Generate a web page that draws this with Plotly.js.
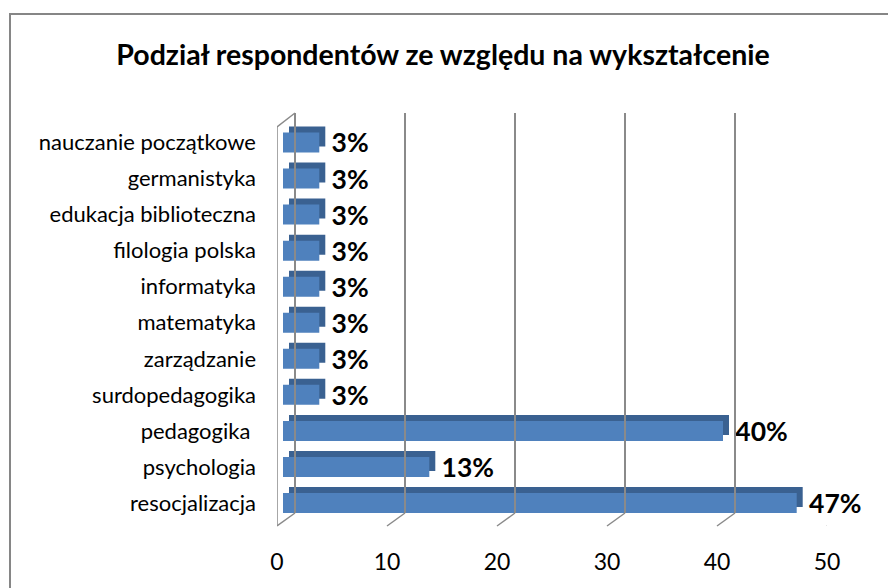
<!DOCTYPE html>
<html>
<head>
<meta charset="utf-8">
<script src="https://cdn.plot.ly/plotly-3.0.1.min.js"></script>
<style>
  html, body { margin: 0; padding: 0; background: white; }
  #chart { width: 888px; height: 588px; }
</style>
</head>
<body>
<div id="chart"></div>
<script>
// categories from bottom to top, as plotly draws them
let categories = ['resocjalizacja', 'psychologia', 'pedagogika ', 'surdopedagogika', 'zarządzanie',
  'matematyka', 'informatyka', 'filologia polska', 'edukacja biblioteczna', 'germanistyka',
  'nauczanie początkowe']
let values = [46.7, 13.3, 40, 3.3, 3.3, 3.3, 3.3, 3.3, 3.3, 3.3, 3.3]
let labels = ['47%', '13%', '40%', '3%', '3%', '3%', '3%', '3%', '3%', '3%', '3%']
let xTicks = [0, 10, 20, 30, 40, 50]

// fake 3d: depth of the bar boxes (value units / category units)
let depthX = 6 / 11
let depthY = 6 / 36.05
let barW = 20 / 36.05

let front = '#4f81bd'
let side = '#3a6191'
let gridColor = '#8a8a8a'
let font = 'Lato, "Open Sans", sans-serif'

let sideData = {
  type: 'bar', orientation: 'h',
  y: categories, x: values,
  base: values.map(() => depthX),
  width: barW, offset: -barW / 2 + depthY,
  marker: { color: side },
  xaxis: 'x', yaxis: 'y',
  hoverinfo: 'skip'
}
let frontData = {
  type: 'bar', orientation: 'h',
  y: categories, x: values,
  width: barW, offset: -barW / 2,
  marker: { color: front, line: { width: 0 } },
  xaxis: 'x', yaxis: 'y'
}
let textData = {
  type: 'bar', orientation: 'h',
  y: categories, x: values,
  base: values.map(() => depthX),
  width: barW, offset: -barW / 2,
  marker: { color: 'rgba(0,0,0,0)' },
  text: labels.map(t => '\u2009' + t),
  textposition: 'outside',
  constraintext: 'none',
  cliponaxis: false,
  textfont: { family: font, size: 26.5, color: '#000', weight: 'bold' },
  xaxis: 'x', yaxis: 'y',
  hoverinfo: 'skip'
}
// invisible traces so the back wall and the front floor axes get drawn
let backData = {
  type: 'scatter', mode: 'markers', x: [0], y: [0],
  marker: { opacity: 0 }, xaxis: 'x2', yaxis: 'y2', hoverinfo: 'skip'
}
let tickData = {
  type: 'scatter', mode: 'markers', x: [0], y: [categories[0]],
  marker: { opacity: 0 }, xaxis: 'x3', yaxis: 'y', hoverinfo: 'skip'
}

// plot area in pixels: left 277 (front floor) .. right 845 (back wall)
let W = 568

let shapes = []
xTicks.forEach(function (t) {
  // floor lines from the front axis to the back wall
  shapes.push({
    type: 'line', xref: 'x3', xsizemode: 'pixel', xanchor: t, x0: 0, x1: 18,
    yref: 'paper', ysizemode: 'pixel', yanchor: 0, y0: 0, y1: 13,
    line: { color: gridColor, width: 1.5 }
  })
})
// left wall edges
shapes.push({
  type: 'line', xref: 'x3', xsizemode: 'pixel', xanchor: 0, x0: 0, x1: 0,
  yref: 'paper', ysizemode: 'pixel', yanchor: 0, y0: 0, y1: 399,
  line: { color: gridColor, width: 1.5 }
})
shapes.push({
  type: 'line', xref: 'x3', xsizemode: 'pixel', xanchor: 0, x0: 0, x1: 18,
  yref: 'paper', ysizemode: 'pixel', yanchor: 1, y0: -14, y1: 0,
  line: { color: gridColor, width: 1.5 }
})
// chart border
shapes.push({
  type: 'rect', xref: 'paper', xsizemode: 'pixel', xanchor: 0, x0: -267, x1: 620,
  yref: 'paper', ysizemode: 'pixel', yanchor: 1, y0: 99, y1: -490,
  line: { color: '#868686', width: 2 }, layer: 'below'
})

let layout = {
  width: 888, height: 588,
  margin: { l: 277, r: 43, t: 113, b: 62 },
  paper_bgcolor: 'white', plot_bgcolor: 'rgba(0,0,0,0)',
  showlegend: false,
  barmode: 'overlay',
  title: {
    text: 'Podział respondentów ze względu na wykształcenie',
    font: { family: font, size: 28.5, color: '#000', weight: 'bold' },
    x: 443 / 888, xref: 'container', xanchor: 'center',
    y: 1 - 55 / 588, yref: 'container', yanchor: 'middle'
  },
  xaxis: {
    domain: [6 / W, 556 / W], range: [0, 50], anchor: 'y',
    showgrid: false, zeroline: false, showticklabels: false, fixedrange: true
  },
  xaxis2: {
    domain: [18 / W, 1], range: [0, 50], anchor: 'y2',
    tickmode: 'array', tickvals: xTicks, showgrid: true,
    gridcolor: gridColor, gridwidth: 1.5,
    zeroline: true, zerolinecolor: gridColor, zerolinewidth: 1.5,
    showticklabels: false, ticks: ''
  },
  xaxis3: {
    domain: [0, 550 / W], range: [0, 50], anchor: 'y',
    tickmode: 'array', tickvals: xTicks, showgrid: false, zeroline: false,
    ticks: '', ticklabelstandoff: 20,
    tickfont: { family: font, size: 23, color: '#000' }
  },
  yaxis: {
    domain: [0, 1], type: 'category', range: [-0.638, 10.818],
    showgrid: false, zeroline: false, ticks: '',
    ticklabelstandoff: 26,
    tickfont: { family: font, size: 22, color: '#000' }
  },
  yaxis2: {
    domain: [13 / 413, 1], range: [0, 1], anchor: 'x2',
    showgrid: false, zeroline: false, showticklabels: false, visible: false
  },
  shapes: shapes
}

Plotly.newPlot('chart', [backData, tickData, sideData, frontData, textData], layout,
  { displayModeBar: false, staticPlot: true })
</script>
</body>
</html>
